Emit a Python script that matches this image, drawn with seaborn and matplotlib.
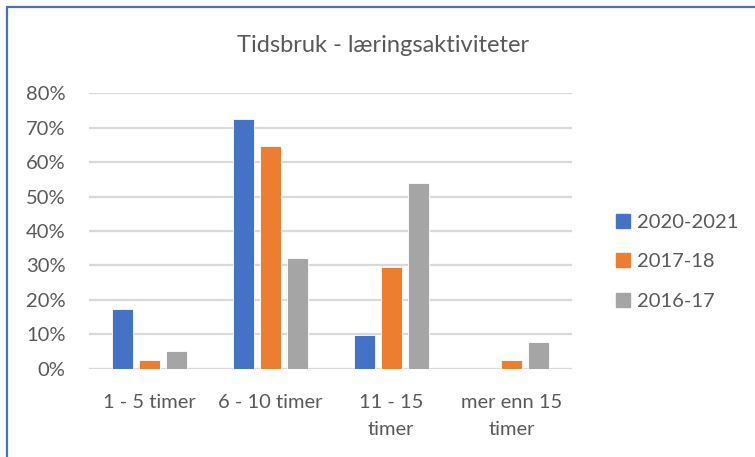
import pandas as pd
import seaborn as sns
import matplotlib.pyplot as plt
from matplotlib.ticker import PercentFormatter, MultipleLocator
from matplotlib.lines import Line2D

# Chart data
categories = ['1 - 5 timer', '6 - 10 timer', '11 - 15\ntimer', 'mer enn 15\ntimer']
years = ['2020-2021', '2017-18', '2016-17']
share_2020_21 = [0.174, 0.725, 0.099, 0.0]
share_2017_18 = [0.026, 0.646, 0.296, 0.026]
share_2016_17 = [0.052, 0.322, 0.539, 0.078]
colors = ['#4472C4', '#ED7D31', '#A5A5A5']

# Long format for seaborn
df = pd.DataFrame({
    'kategori': categories * 3,
    'periode': [years[0]] * 4 + [years[1]] * 4 + [years[2]] * 4,
    'andel': share_2020_21 + share_2017_18 + share_2016_17,
})

sns.set_style('white')
plt.rcParams['font.family'] = ['Lato', 'DejaVu Sans']
text_col = '#595959'

fig = plt.figure(figsize=(7.55, 4.57), dpi=100)
ax = fig.add_axes([0.118, 0.193, 0.640, 0.603])

sns.barplot(data=df, x='kategori', y='andel', hue='periode', order=categories,
            hue_order=years, palette=colors, width=0.67, gap=0.22,
            edgecolor='white', linewidth=0.6, saturation=1, ax=ax, zorder=3)

ax.set_ylim(0, 0.8)
ax.yaxis.set_major_locator(MultipleLocator(0.1))
ax.yaxis.set_major_formatter(PercentFormatter(1.0, decimals=0))
ax.grid(axis='y', color='#D9D9D9', linewidth=1.6, zorder=0)
ax.set_axisbelow(True)
sns.despine(ax=ax, left=True, bottom=True, top=True, right=True)
ax.tick_params(axis='both', length=0, colors=text_col, labelsize=14.5)
ax.tick_params(axis='y', pad=17)
ax.tick_params(axis='x', pad=18)
ax.set_xlabel('')
ax.set_ylabel('')
for lbl in ax.get_xticklabels():
    lbl.set_linespacing(1.75)

fig.text(0.508, 0.90, 'Tidsbruk - læringsaktiviteter', ha='center', va='center',
         fontsize=17, color=text_col)

# Legend on the right
ax.get_legend().remove()
handles = [Line2D([0], [0], marker='s', linestyle='', markersize=9.5,
                  markerfacecolor=c, markeredgecolor=c) for c in colors]
fig.legend(handles, years, loc='center left', bbox_to_anchor=(0.79, 0.427),
           frameon=False, fontsize=14.5, labelcolor=text_col, handlelength=0.8,
           handletextpad=0.3, labelspacing=1.1)

# Outer frame (top and left edges visible)
fig.add_artist(Line2D([0.0093, 0.0093], [0, 0.985], color='#4472C4', linewidth=1.6,
                      transform=fig.transFigure))
fig.add_artist(Line2D([0.0093, 1.0], [0.985, 0.985], color='#4472C4', linewidth=1.6,
                      transform=fig.transFigure))

fig.savefig('out.png', dpi=100)
